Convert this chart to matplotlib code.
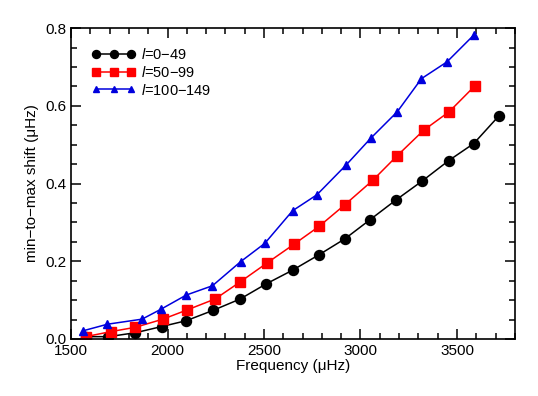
import matplotlib
matplotlib.use('Agg')
import matplotlib.pyplot as plt
from matplotlib.ticker import MultipleLocator

plt.rcParams['font.family'] = ['Liberation Sans', 'DejaVu Sans']
plt.rcParams['mathtext.fontset'] = 'custom'
plt.rcParams['mathtext.rm'] = 'Liberation Sans'
plt.rcParams['mathtext.it'] = 'Liberation Sans:italic'

# l = 0-49
freq_low = [1580, 1694, 1833, 1970, 2097, 2238, 2377, 2512, 2648, 2786, 2920,
            3047, 3182, 3321, 3457, 3587, 3717]
shift_low = [0.006, 0.006, 0.016, 0.032, 0.047, 0.074, 0.103, 0.142, 0.177,
             0.217, 0.258, 0.306, 0.357, 0.407, 0.459, 0.503, 0.574]

# l = 50-99
freq_mid = [1576, 1707, 1833, 1976, 2103, 2247, 2377, 2517, 2656, 2786, 2918,
            3063, 3191, 3327, 3460, 3594]
shift_mid = [0.006, 0.019, 0.030, 0.051, 0.075, 0.103, 0.147, 0.196, 0.244,
             0.290, 0.345, 0.408, 0.472, 0.537, 0.585, 0.652]

# l = 100-149
freq_high = [1562, 1689, 1868, 1964, 2097, 2233, 2379, 2504, 2648, 2774, 2926,
             3052, 3191, 3316, 3448, 3587]
shift_high = [0.021, 0.038, 0.051, 0.076, 0.113, 0.137, 0.199, 0.246, 0.330,
              0.371, 0.448, 0.516, 0.585, 0.670, 0.713, 0.782]

fig = plt.figure(figsize=(5.38, 3.96), dpi=100)
ax = fig.add_axes([0.132, 0.144, 0.825, 0.785])

ax.plot(freq_low, shift_low, '-o', color='black', ms=7.2, lw=1.1,
        label='$l$=0\u221249')
ax.plot(freq_mid, shift_mid, '-s', color='#ff0000', ms=6.8, lw=1.1,
        label='$l$=50\u221299')
ax.plot(freq_high, shift_high, '-^', color='#0000dd', ms=6, lw=1.1,
        label='$l$=100\u2212149')

ax.set_xlim(1500, 3800)
ax.set_ylim(0, 0.8)
ax.xaxis.set_major_locator(MultipleLocator(500))
ax.xaxis.set_minor_locator(MultipleLocator(100))
ax.yaxis.set_major_locator(MultipleLocator(0.2))
ax.yaxis.set_minor_locator(MultipleLocator(0.05))
ax.tick_params(which='both', direction='in', top=True, right=True,
               labelsize=11, width=1.1)
ax.tick_params(which='major', length=7.5)
ax.tick_params(which='minor', length=4)
for s in ax.spines.values():
    s.set_linewidth(1.2)

ax.set_xlabel('Frequency (\u03bcHz)', fontsize=11, labelpad=1)
ax.set_ylabel('min\u2212to\u2212max shift (\u03bcHz)', fontsize=11)

ax.legend(loc='upper left', frameon=False, numpoints=3, handlelength=3.0,
          handletextpad=0.35, labelspacing=0.2, fontsize=10.5,
          markerscale=0.8, borderaxespad=0, borderpad=0,
          bbox_to_anchor=(0.047, 0.94))

fig.savefig('out.png', dpi=100)
